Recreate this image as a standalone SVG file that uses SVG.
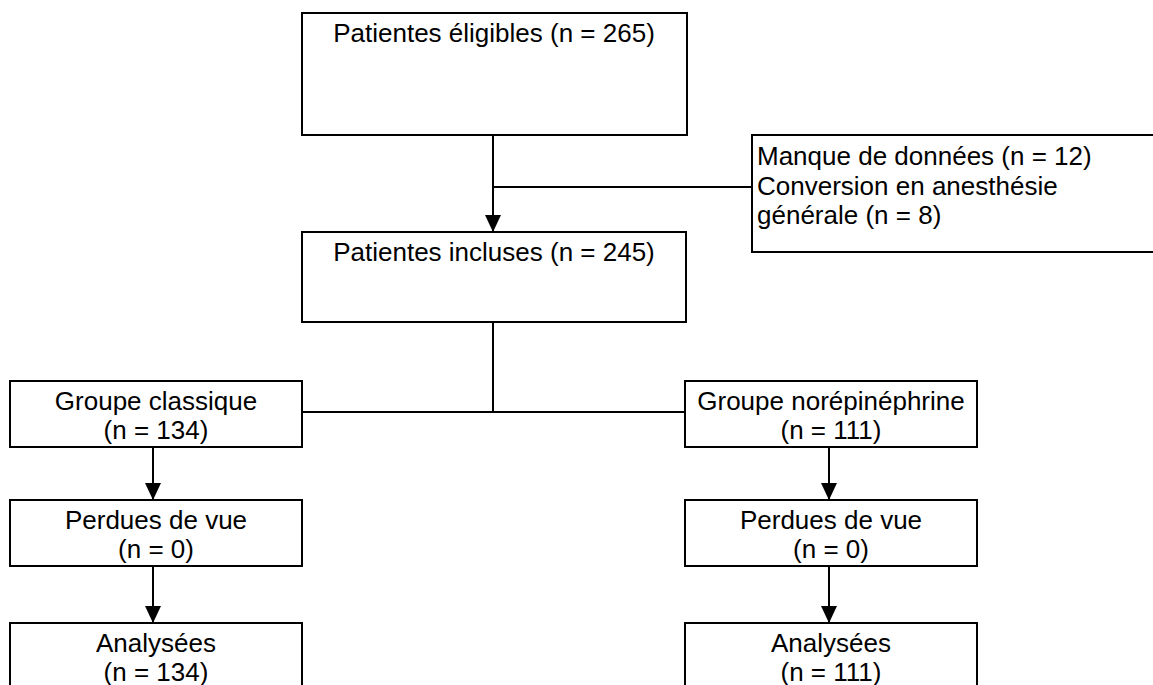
<svg xmlns="http://www.w3.org/2000/svg" width="1153" height="685" viewBox="0 0 1153 685">
<style>
  .box { fill: #ffffff; stroke: #000000; stroke-width: 2; }
  .ln { fill: none; stroke: #000000; stroke-width: 2; }
  text { font-family: "Liberation Sans", Arial, sans-serif; font-size: 26px; fill: #000000; }
  .c { text-anchor: middle; }
</style>
<defs>
  <marker id="arr" markerUnits="userSpaceOnUse" markerWidth="17" markerHeight="18" refX="17" refY="8" orient="auto" viewBox="0 0 17 16">
    <polygon points="0,0 17,8 0,16" fill="#000000"/>
  </marker>
</defs>
<rect width="1153" height="685" fill="#ffffff"/>
<g id="connectors">
  <line class="ln" x1="493" y1="135" x2="493" y2="232" marker-end="url(#arr)"/>
  <line class="ln" x1="493" y1="187" x2="752" y2="187"/>
  <line class="ln" x1="493" y1="322" x2="493" y2="412"/>
  <line class="ln" x1="302" y1="412" x2="685" y2="412"/>
  <line class="ln" x1="153" y1="447" x2="153" y2="500" marker-end="url(#arr)"/>
  <line class="ln" x1="153" y1="566" x2="153" y2="623" marker-end="url(#arr)"/>
  <line class="ln" x1="829" y1="447" x2="829" y2="500" marker-end="url(#arr)"/>
  <line class="ln" x1="829" y1="566" x2="829" y2="623" marker-end="url(#arr)"/>
</g>
<g id="eligibles">
  <rect class="box" x="302" y="13" width="385" height="122"/>
  <text class="c" x="494" y="42">Patientes éligibles (n = 265)</text>
</g>
<g id="exclusion">
  <rect class="box" x="752" y="135" width="420" height="117"/>
  <text x="757" y="165">Manque de données (n = 12)</text>
  <text x="757" y="195">Conversion en anesthésie</text>
  <text x="757" y="224">générale (n = 8)</text>
</g>
<g id="incluses">
  <rect class="box" x="302" y="232" width="384" height="90"/>
  <text class="c" x="494" y="261">Patientes incluses (n = 245)</text>
</g>
<g id="classique">
  <rect class="box" x="10" y="381" width="292" height="66"/>
  <text class="c" x="156" y="410">Groupe classique</text>
  <text class="c" x="156" y="439">(n = 134)</text>
</g>
<g id="norepinephrine">
  <rect class="box" x="685" y="381" width="292" height="66"/>
  <text class="c" x="831" y="410">Groupe norépinéphrine</text>
  <text class="c" x="831" y="439">(n = 111)</text>
</g>
<g id="perdues-classique">
  <rect class="box" x="10" y="500" width="292" height="66"/>
  <text class="c" x="156" y="529">Perdues de vue</text>
  <text class="c" x="156" y="558">(n = 0)</text>
</g>
<g id="perdues-norepinephrine">
  <rect class="box" x="685" y="500" width="292" height="66"/>
  <text class="c" x="831" y="529">Perdues de vue</text>
  <text class="c" x="831" y="558">(n = 0)</text>
</g>
<g id="analysees-classique">
  <rect class="box" x="10" y="623" width="292" height="80"/>
  <text class="c" x="156" y="652">Analysées</text>
  <text class="c" x="156" y="681">(n = 134)</text>
</g>
<g id="analysees-norepinephrine">
  <rect class="box" x="685" y="623" width="292" height="80"/>
  <text class="c" x="831" y="652">Analysées</text>
  <text class="c" x="831" y="681">(n = 111)</text>
</g>
</svg>
